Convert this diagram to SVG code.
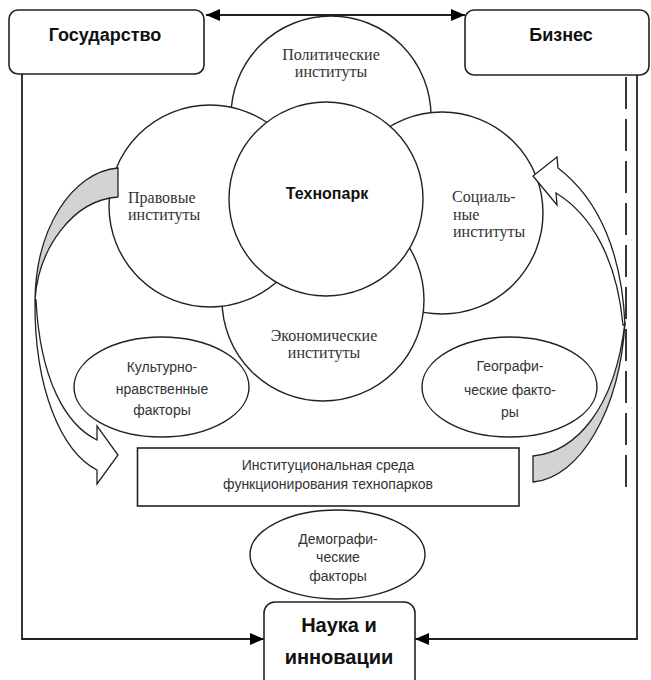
<svg xmlns="http://www.w3.org/2000/svg" width="651" height="680" viewBox="0 0 651 680">
<defs>
<marker id="ah" viewBox="0 0 14 12" markerWidth="14" markerHeight="12" refX="14" refY="6" orient="auto-start-reverse" markerUnits="userSpaceOnUse">
<path d="M0,0 L14,6 L0,12 Z" fill="#000"/>
</marker>
<style>
.conn{fill:none;stroke:#222;stroke-width:1.8}
.box{fill:#fff;stroke:#222;stroke-width:1.6}
.circ{fill:#fff;stroke:#222;stroke-width:1.4}
.ell{fill:#fff;stroke:#222;stroke-width:1.4}
.serif{font-family:"Liberation Serif","Times New Roman",serif;font-size:16px;fill:#333}
.sans{font-family:"Liberation Sans",Arial,sans-serif;font-size:14px;fill:#333}
.bold{font-family:"Liberation Sans",Arial,sans-serif;font-weight:bold;fill:#111}
.barrow{stroke:#222;stroke-width:1.3;stroke-linejoin:miter}
</style>
</defs>
<rect width="651" height="680" fill="#fff"/>

<g id="connectors">
<line class="conn" x1="206" y1="15" x2="465" y2="15" marker-start="url(#ah)" marker-end="url(#ah)"/>
<polyline class="conn" points="22,73 22,639 264,639" marker-end="url(#ah)"/>
<polyline class="conn" points="415,639 637,639 637,58" marker-start="url(#ah)" marker-end="url(#ah)"/>
<line class="conn" x1="626" y1="77" x2="626" y2="487" stroke-width="2.2" stroke-dasharray="32 10"/>
</g>

<g id="gosudarstvo">
<rect class="box" x="9" y="10" width="195" height="64" rx="9"/>
<text class="bold" x="105" y="41" font-size="18" text-anchor="middle">Государство</text>
</g>
<g id="biznes">
<rect class="box" x="465" y="10" width="184" height="65" rx="9"/>
<text class="bold" x="561" y="41" font-size="18" text-anchor="middle">Бизнес</text>
</g>
<g id="nauka">
<rect class="box" x="264" y="602" width="151" height="90" rx="11"/>
<text class="bold" x="339" y="632" font-size="20" text-anchor="middle">Наука и</text>
<text class="bold" x="339" y="664" font-size="20" text-anchor="middle">инновации</text>
</g>

<g id="politicheskie">
<circle class="circ" cx="331" cy="116" r="100"/>
<text class="serif" x="331" y="60" text-anchor="middle">Политические</text>
<text class="serif" x="331" y="77" text-anchor="middle">институты</text>
</g>
<g id="socialnye">
<circle class="circ" cx="442" cy="213" r="101"/>
<text class="serif" x="452" y="202">Социаль-</text>
<text class="serif" x="453" y="220">ные</text>
<text class="serif" x="453" y="237">институты</text>
</g>
<g id="ekonomicheskie">
<circle class="circ" cx="323" cy="300" r="101"/>
<text class="serif" x="324" y="341" text-anchor="middle">Экономические</text>
<text class="serif" x="324" y="358" text-anchor="middle">институты</text>
</g>
<g id="pravovye">
<circle class="circ" cx="210" cy="206" r="101"/>
<text class="serif" x="128" y="203">Правовые</text>
<text class="serif" x="128" y="220">институты</text>
</g>
<g id="tehnopark">
<circle class="circ" cx="326" cy="199" r="97"/>
<text class="bold" x="327" y="199" font-size="16" text-anchor="middle">Технопарк</text>
</g>

<g id="kulturno">
<ellipse class="ell" cx="161.5" cy="387" rx="87.5" ry="50"/>
<text class="sans" x="162" y="372" text-anchor="middle">Культурно-</text>
<text class="sans" x="162" y="394" text-anchor="middle">нравственные</text>
<text class="sans" x="162" y="415" text-anchor="middle">факторы</text>
</g>
<g id="geograficheskie">
<ellipse class="ell" cx="509.5" cy="387" rx="87.5" ry="50"/>
<text class="sans" x="510" y="371" text-anchor="middle">Географи-</text>
<text class="sans" x="510" y="395" text-anchor="middle">ческие факто-</text>
<text class="sans" x="510" y="417" text-anchor="middle">ры</text>
</g>
<g id="sreda">
<rect class="box" x="137.5" y="448" width="381.5" height="58"/>
<text class="sans" x="328" y="470" text-anchor="middle">Институциональная среда</text>
<text class="sans" x="328" y="489" text-anchor="middle">функционирования технопарков</text>
</g>
<g id="demograficheskie">
<ellipse class="ell" cx="337.5" cy="554.5" rx="87.5" ry="44.5"/>
<text class="sans" x="338" y="544" font-size="13.5" text-anchor="middle">Демографи-</text>
<text class="sans" x="338" y="562" font-size="13.5" text-anchor="middle">ческие</text>
<text class="sans" x="338" y="581" font-size="13.5" text-anchor="middle">факторы</text>
</g>

<g id="left-curved-arrow">
<path class="barrow" fill="#fff" d="M35,300 C34,390 62,452 97,470 L97,484 L118,455 L97,426 L97,440 C66,425 40,380 36,300 Z"/>
<path class="barrow" fill="#d3d3d3" d="M118,168 C72,172 36,228 35,300 C38,250 72,200 118,197 Z"/>
</g>
<g id="right-curved-arrow">
<path class="barrow" fill="#fff" d="M625,325 C622,255 600,200 558,168 L557,157 L533,176 L557,205 L556,193 C592,215 617,260 623,325 Z"/>
<path class="barrow" fill="#d3d3d3" d="M625,322 C620,410 580,478 533,482 L533,456 C575,452 615,410 625,322 Z"/>
</g>
</svg>
